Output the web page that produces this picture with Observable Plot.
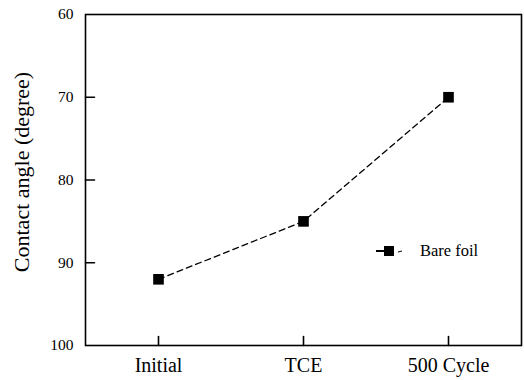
<!DOCTYPE html>
<html>
<head>
<meta charset="utf-8">
<script src="https://cdn.jsdelivr.net/npm/d3@7"></script>
<script src="https://cdn.jsdelivr.net/npm/@observablehq/plot@0.6"></script>
<style>
  html, body { margin: 0; padding: 0; background: #fff; }
  #wrap { position: relative; width: 524px; height: 380px; font-family: "Liberation Serif", "Times New Roman", serif; }
  #legend { position: absolute; left: 374px; top: 241px; display: flex; align-items: center; font-size: 16.5px; color: #000; }
  #legend svg { display: block; margin-right: 6px; }
</style>
</head>
<body>
<div id="wrap"></div>
<script>
const categories = ["Initial", "TCE", "500 Cycle"];
const contactAngle = [92, 85, 70];
const yTicks = [60, 70, 80, 90, 100];
const seriesName = "Bare foil";
const yLabel = "Contact angle (degree)";

const data = categories.map((c, i) => ({cat: c, value: contactAngle[i]}));
const tickShape = {draw(context, l) { context.moveTo(0, 0); context.lineTo(0, -l); }};

const chart = Plot.plot({
  width: 524,
  height: 380,
  marginTop: 14,
  marginBottom: 35,
  marginLeft: 85,
  marginRight: 3,
  style: {fontFamily: "Liberation Serif, Times New Roman, serif", color: "#000", background: "#fff"},
  x: {type: "point", domain: categories, padding: 0.5},
  y: {domain: [60, 100], reverse: true},
  marks: [
    Plot.frame({stroke: "#000", strokeWidth: 1.6}),
    Plot.axisX({tickSize: 0, tickPadding: 12, fontSize: 20, label: null}),
    Plot.axisY({ticks: yTicks, tickSize: 0, tickPadding: 12, fontSize: 15.5, label: null, tickFormat: d => String(d)}),
    Plot.vector(categories, {x: d => d, frameAnchor: "bottom", length: 9, rotate: 0, anchor: "start", shape: tickShape, stroke: "#000", strokeWidth: 1.6}),
    Plot.vector(yTicks.slice(1, -1), {y: d => d, frameAnchor: "left", length: 9, rotate: 90, anchor: "start", shape: tickShape, stroke: "#000", strokeWidth: 1.6}),
    Plot.text([yLabel], {frameAnchor: "left", textAnchor: "middle", rotate: -90, dx: -64, dy: -8, fontSize: 22, fill: "#000"}),
    Plot.line(data, {x: "cat", y: "value", stroke: "#000", strokeWidth: 1.3, strokeDasharray: "6,4"}),
    Plot.dot(data, {x: "cat", y: "value", symbol: "square", r: 6, fill: "#000", stroke: "none"})
  ]
});

const wrap = document.getElementById("wrap");
wrap.appendChild(chart);

const legend = document.createElement("div");
legend.id = "legend";
legend.innerHTML = `<svg width="40" height="16" viewBox="0 0 40 16">
  <line x1="2" y1="8" x2="10" y2="8" stroke="#000" stroke-width="2"/>
  <rect x="10" y="3" width="10" height="10" fill="#000"/>
  <line x1="24" y1="9" x2="28" y2="8" stroke="#000" stroke-width="1"/>
</svg><span>${seriesName}</span>`;
wrap.appendChild(legend);
</script>
</body>
</html>
